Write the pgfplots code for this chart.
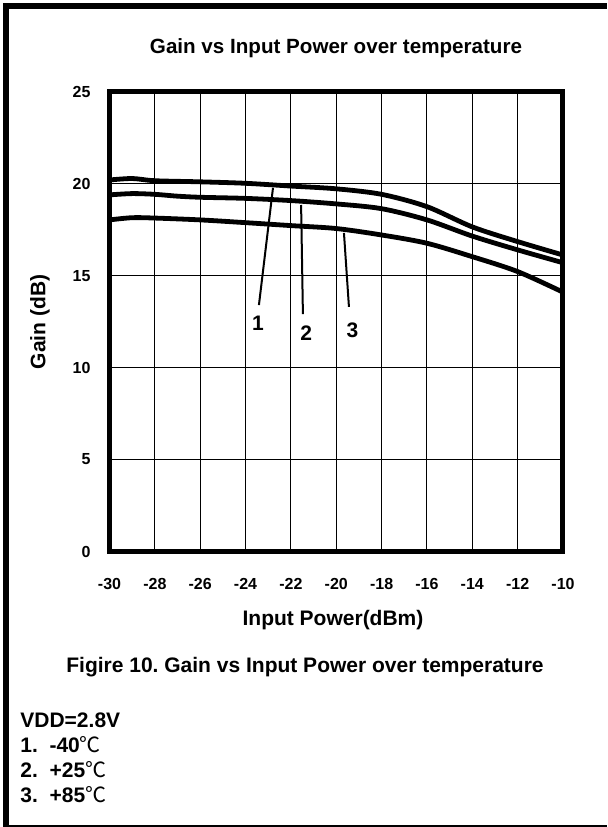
\documentclass[border=0pt]{standalone}
\usepackage{fontspec}
\setmainfont{Liberation Sans}
\newfontfamily\cjk{Noto Sans CJK SC}
\usepackage{pgfplots}
\pgfplotsset{compat=1.18}
\frenchspacing
\begin{document}
\begin{tikzpicture}
\useasboundingbox (0pt,0pt) rectangle (303.5pt,413.5pt);
% frame
\draw[line width=3pt] (3pt,0pt) -- (3pt,410.5pt) -- (303.5pt,410.5pt);
\draw[line width=1.2pt] (1.5pt,0.6pt) -- (303.5pt,0.6pt);
\begin{axis}[
  at={(54.75pt,137.75pt)}, anchor=south west,
  width=226.75pt, height=229.9pt, scale only axis,
  xmin=-30, xmax=-10, ymin=0, ymax=25,
  xtick={-30,-28,...,-10}, ytick={0,5,...,25},
  grid=major, major grid style={black, line width=0.5pt},
  major tick length=0pt,
  axis line style={line width=2.5pt},
  /pgf/number format/assume math mode=true,
  ticklabel style={font=\bfseries\fontsize{8}{9}\selectfont},
  xticklabel style={yshift=-10pt},
  yticklabel style={xshift=-6pt},
  clip=false,
]
\addplot[black, line width=2.4pt, smooth] coordinates {
(-30,20.2) (-29,20.28) (-28,20.16) (-26,20.1) (-24,20.02) (-22,19.87) (-20,19.72) (-18,19.42) (-16,18.75) (-14,17.65) (-12,16.85) (-10,16.12)};
\addplot[black, line width=2.4pt, smooth] coordinates {
(-30,19.39) (-29,19.46) (-28,19.42) (-27,19.32) (-26,19.26) (-24,19.2) (-22,19.08) (-20,18.9) (-18,18.64) (-16,18.03) (-14,17.15) (-12,16.4) (-10,15.7)};
\addplot[black, line width=2.4pt, smooth] coordinates {
(-30,18.03) (-29,18.15) (-28,18.13) (-26,18.03) (-24,17.88) (-22,17.72) (-20,17.56) (-18,17.21) (-16,16.76) (-14,16.03) (-12,15.22) (-10,14.1)};
\draw[line width=1pt] (axis cs:-23.41,13.4) -- (axis cs:-22.79,19.77);
\draw[line width=1pt] (axis cs:-21.47,12.91) -- (axis cs:-21.55,18.84);
\draw[line width=1pt] (axis cs:-19.44,13.3) -- (axis cs:-19.66,17.32);
\node[font=\bfseries\fontsize{10.5}{12}\selectfont] at (axis cs:-23.45,12.43) {1};
\node[font=\bfseries\fontsize{10.5}{12}\selectfont] at (axis cs:-21.33,11.88) {2};
\node[font=\bfseries\fontsize{10.5}{12}\selectfont] at (axis cs:-19.29,12.04) {3};
\end{axis}
\node[font=\bfseries\fontsize{10.3}{12}\selectfont] at (168pt,389.5pt) {Gain vs Input Power over temperature};
\node[font=\bfseries\fontsize{10.5}{12}\selectfont] at (166.5pt,103.5pt) {Input Power(dBm)};
\node[font=\bfseries\fontsize{10.5}{12}\selectfont, rotate=90] at (20pt,252.5pt) {Gain (dB)};
\node[font=\bfseries\fontsize{10.5}{12}\selectfont] at (152.5pt,80pt) {Figire 10. Gain vs Input Power over temperature};
\node[font=\bfseries\fontsize{10.5}{12}\selectfont, anchor=west, inner sep=0pt] at (10pt,53.5pt) {VDD=2.8V};
\node[font=\bfseries\fontsize{10.5}{12}\selectfont, anchor=west, inner sep=0pt] at (10pt,41pt) {1.\ \ -40{\cjk\mdseries ℃}};
\node[font=\bfseries\fontsize{10.5}{12}\selectfont, anchor=west, inner sep=0pt] at (10pt,28.5pt) {2.\ \ +25{\cjk\mdseries ℃}};
\node[font=\bfseries\fontsize{10.5}{12}\selectfont, anchor=west, inner sep=0pt] at (10pt,16pt) {3.\ \ +85{\cjk\mdseries ℃}};
\end{tikzpicture}
\end{document}
